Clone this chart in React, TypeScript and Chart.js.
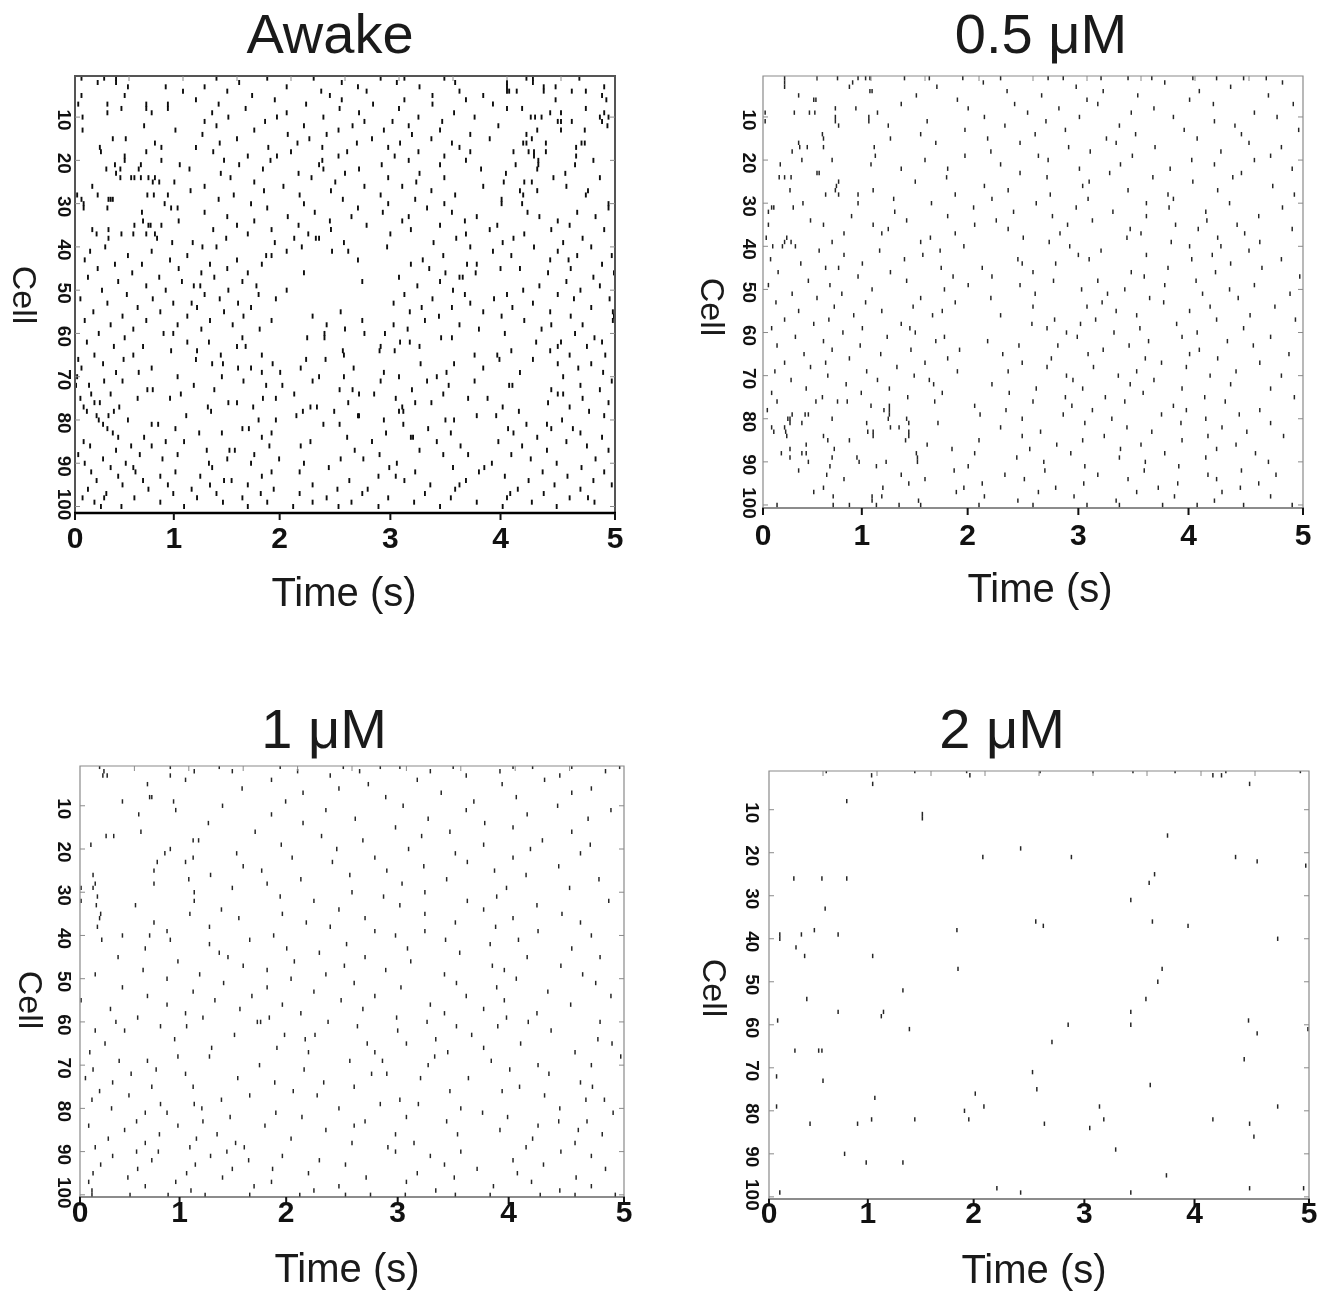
import { useEffect, useRef } from 'react';
import { Chart, registerables } from 'chart.js';

Chart.register(...registerables);

// Spike times in 1/100 s; row index = cell number - 1
const awakeSpikes: number[][] = [
  [6,27,38,131,178,221,283,305,342,418,424,467],
  [21,38,152,247,298,352,400,424],
  [49,84,120,196,262,319,400,434,445,490],
  [100,141,228,270,356,400,402,409,434,460,473,500],
  [6,46,164,236,331,378,488],
  [112,185,247,305,362,445,492],
  [3,30,66,86,133,214,276,331,387],
  [43,66,86,158,245,300,400,414,473],
  [30,71,127,196,263,351,440,450,490],
  [7,142,187,230,318,370,422,426,432,486,494],
  [120,176,268,294,340,447,450,460,488],
  [64,131,212,257,309,392,493],
  [7,93,166,244,286,338,428,450,472],
  [118,197,233,312,366,418],
  [35,47,150,217,275,330,384,423],
  [74,134,206,261,301,349,415,418,436,469,472],
  [23,80,112,179,229,290,356,464],
  [24,66,128,200,252,318,366,406,420,425,436],
  [46,160,187,244,296,342,425,464],
  [46,80,138,181,229,309,362,429,480],
  [37,61,97,152,226,284,338,408,429,463,500],
  [29,42,59,106,174,230,263,376,428],
  [38,135,207,250,319,399,454],
  [42,52,55,61,68,74,144,219,290,342,443,486],
  [72,78,92,166,241,316,397,416,423],
  [16,120,193,268,303,378,455],
  [107,175,237,330,412,428,475],
  [2,21,67,73,86,147,208,283,352,415,473],
  [6,31,33,35,133,248,315,395],
  [8,83,163,212,290,342,395,414,494],
  [8,30,89,95,178,262,326,494],
  [62,120,222,285,349,419,465],
  [141,197,256,309,372,430,482],
  [63,96,166,236,303,361,447],
  [55,68,70,80,150,207,270,338,391,458],
  [16,31,128,182,237,311,384,441,490],
  [20,43,54,66,74,160,216,292,362,416],
  [31,76,140,203,223,226,353,406,470],
  [90,109,185,249,332,396,452],
  [28,118,131,210,289,366,425,478],
  [14,71,196,238,253,387,447],
  [49,104,177,182,341,404,465,497],
  [9,88,150,262,322,440,457],
  [37,62,125,173,311,363,372,488],
  [21,96,141,328,394,412,459],
  [53,117,160,212,343,371,438,499],
  [12,78,129,300,356,359,480],
  [40,99,155,266,338,455],
  [66,110,116,168,317,430,486],
  [25,84,142,196,350,415,468],
  [48,120,170,305,361,400,447],
  [5,72,134,186,331,388,462,495],
  [30,91,108,151,295,366,424],
  [58,113,163,321,349,405,478],
  [17,79,138,246,310,378,440,498],
  [44,104,156,220,337,395,459,499],
  [9,66,125,182,266,324,416,498],
  [33,95,146,233,295,356,441,470],
  [54,117,171,250,308,374,432],
  [22,82,91,231,268,287,398,463],
  [46,155,215,231,339,349,481],
  [11,104,124,301,310,427,450,488],
  [36,63,150,158,283,319,447,474],
  [89,113,248,282,296,404,440],
  [18,54,135,173,249,370,391,458,491],
  [3,45,112,214,232,393,424],
  [26,127,137,183,320,351,447,478],
  [6,71,151,163,209,258,378,466],
  [38,59,173,190,286,344,412,489],
  [2,95,136,226,249,300,335,452],
  [27,44,156,220,283,326,370,497],
  [1,13,110,177,192,346,402,405,468],
  [67,72,129,245,257,312,441,486],
  [15,33,98,203,263,277,341,447,452],
  [5,58,88,174,186,297,364,382,470],
  [18,23,142,150,253,315,330,438,494],
  [8,41,123,165,218,224,303,396,458],
  [11,36,126,211,240,300,304,411,476],
  [20,31,103,205,262,263,372,390,490],
  [22,49,170,186,286,343,351,451],
  [26,71,77,230,245,304,418,437],
  [30,93,155,161,327,401,441,461],
  [35,115,136,182,288,348,406,468,500],
  [40,64,173,252,311,313,428,488],
  [8,84,101,218,275,335,392,455],
  [14,52,71,180,209,357,414,474],
  [38,122,143,148,259,319,437,494],
  [3,60,95,166,282,341,364,404],
  [26,81,141,189,246,267,422,482],
  [9,47,124,163,212,298,386,446],
  [33,54,127,235,291,350,379,469],
  [15,56,93,182,208,315,374,433,490],
  [40,79,116,173,281,297,398,456],
  [20,63,138,145,254,305,362,420,480],
  [44,86,125,160,220,329,356,444,497],
  [12,68,108,184,243,271,352,410,468],
  [29,91,131,172,208,266,324,403,434],
  [7,27,55,113,155,233,290,348,400,458,475],
  [18,79,137,178,220,256,314,372,423,481],
  [24,43,101,160,202,244,281,338,396,446],
];

const halfMicroMolarSpikes: number[][] = [
  [20,50,69,88,95,99,131,154,185,220,264,278,313,338,360,398,420,445,466],
  [20,83,204,372,481],
  [20,80,161,290,433],
  [99,101,226,315,404],
  [33,142,258,347,468],
  [47,49,180,300,395],
  [128,233,310,417,491],
  [67,86,190,274,362],
  [2,29,43,48,106,245,341,455],
  [67,98,205,293,380,476],
  [2,67,98,152,262,418],
  [70,116,224,330,437],
  [187,280,390,496],
  [55,146,252,345,443],
  [56,118,208,318,402],
  [33,160,238,327,450],
  [34,41,56,103,283,363,480],
  [27,211,303,424],
  [104,187,255,342,470],
  [36,64,150,264,397,455],
  [16,100,220,331,418],
  [128,171,293,377,490],
  [50,52,238,321,443],
  [15,20,26,170,263,361,435],
  [70,141,302,398],
  [68,205,296,472],
  [25,67,102,227,338,421],
  [58,70,88,178,266,375,492],
  [121,212,301,380],
  [37,88,156,253,355,432],
  [8,10,28,195,290,376,481],
  [5,122,232,324,410],
  [82,171,268,355,459],
  [44,133,216,305,411],
  [5,56,102,196,282,382,439],
  [116,227,340,403,490],
  [75,110,178,275,350,446],
  [3,22,155,241,337,421],
  [20,26,64,146,265,378,460],
  [9,18,30,186,284,395,424],
  [52,108,164,313,450],
  [75,148,292,355,416],
  [7,131,236,302,397,480],
  [35,92,240,271,433],
  [58,70,165,203,375,462],
  [14,118,250,341,419],
  [88,176,212,353,497],
  [42,133,269,310,401],
  [5,62,190,238,372,455],
  [101,168,295,335,432],
  [27,73,252,319,407,488],
  [50,146,211,358,440],
  [12,95,178,314,371],
  [66,139,250,300,414,474],
  [33,110,166,327,395],
  [84,157,220,346,451],
  [20,61,270,308,420,493],
  [47,128,249,294,383],
  [8,92,136,263,349,445],
  [74,141,281,325,402],
  [30,115,168,291,388,470],
  [56,160,208,357,430],
  [13,90,237,273,339,454],
  [64,137,182,315,404],
  [38,109,222,301,395,487],
  [80,171,267,354,421],
  [20,58,150,240,369,460],
  [44,124,263,306,392],
  [11,96,180,227,346,438],
  [60,140,281,329,414,480],
  [26,106,154,287,362],
  [77,158,212,340,433],
  [40,117,253,296,388,470],
  [8,91,166,228,352],
  [55,134,280,317,409,492],
  [13,49,69,78,159,250,335,428],
  [100,117,196,286,380],
  [4,112,117,225,305,392,460],
  [27,39,42,117,201,278,369,441],
  [23,25,64,116,133,240,323,410],
  [25,36,96,135,162,298,387,470],
  [8,20,118,126,220,337,425],
  [10,21,97,102,135,257,360,448],
  [22,56,102,135,240,316,412,482],
  [60,80,132,200,296,388],
  [40,152,272,350,438],
  [25,66,175,247,331,420],
  [17,36,40,142,196,285,372,456],
  [25,64,87,143,235,330,410],
  [42,89,114,143,260,354,468],
  [62,105,190,298,385],
  [33,177,261,353,443],
  [59,128,224,310,412,475],
  [75,150,242,338,420],
  [135,203,297,384,459],
  [56,111,186,271,366,442],
  [47,179,255,346,425],
  [65,101,110,205,288,381,470],
  [101,144,236,327,418],
  [13,65,80,105,126,146,200,250,300,330,370,402,445,490],
];

const oneMicroMolarSpikes: number[][] = [
  [18,83,128,184,242,276,294,343,398,416,452,496],
  [22,105,140,200,257,322,386,483],
  [21,25,83,230,355,441],
  [97,176,310,427],
  [62,265,388],
  [149,238,470],
  [205,332,452],
  [64,66,281,401],
  [39,86,189,362],
  [131,297,439],
  [88,226,355,488],
  [54,176,411],
  [253,320,467],
  [118,205,372],
  [290,398],
  [56,161,340,452],
  [24,31,222,314],
  [104,109,260,425],
  [10,185,371,469],
  [83,236,302,414],
  [78,144,345,460],
  [104,195,271,398],
  [71,97,232,356],
  [150,316,440],
  [68,167,282,381],
  [12,120,248,410],
  [100,203,337,477],
  [14,68,172,296],
  [1,12,140,392,450],
  [105,250,317],
  [16,184,279,383],
  [1,105,215,356,486],
  [15,51,294,420],
  [130,238,371],
  [19,101,186,317,443],
  [18,146,262,398],
  [68,208,345,460],
  [16,119,230,382],
  [80,271,317,421],
  [39,64,178,290,470],
  [20,83,156,336,403],
  [119,245,377],
  [60,190,301,452],
  [128,220,349],
  [35,136,262,411,478],
  [90,197,304],
  [150,243,379,442],
  [58,172,281,390],
  [14,110,226,335,462],
  [80,194,401],
  [132,252,346,474],
  [39,172,295,383],
  [104,215,430],
  [62,158,271,355,488],
  [1,124,240,390],
  [80,186,322,451],
  [28,147,260,371],
  [97,203,335,420],
  [53,113,174,291,392],
  [33,163,166,228,319,412,478],
  [74,98,255,346,384],
  [14,41,292,433],
  [142,188,216,360],
  [87,207,327,476],
  [23,264,300,405,489],
  [121,181,371],
  [9,210,271,338,455],
  [90,119,326,497],
  [36,62,248,278,378],
  [165,320,421,470],
  [12,70,206,395],
  [47,97,268,282,431],
  [5,145,313,357],
  [30,179,224,460],
  [66,104,252,404,471],
  [18,196,340,388],
  [45,156,218,427],
  [11,130,294,465,482],
  [74,105,276,311],
  [29,112,238,350,441],
  [60,80,180,370,490],
  [138,204,300,393],
  [52,113,262,337,440,466],
  [8,90,170,252,421],
  [41,226,386,458],
  [73,126,290,347,480],
  [26,107,194,416],
  [60,143,250,307,455],
  [14,101,151,283,410],
  [52,72,135,290,350,442],
  [30,120,186,322,470],
  [66,155,220,398],
  [19,106,244,335,426],
  [53,140,177,365,483],
  [12,98,210,310,402],
  [44,131,263,344,456],
  [8,88,176,300,415],
  [60,160,238,380,470],
  [11,102,215,327,441],
  [11,46,81,115,156,202,244,267,299,345,377,423,455,492],
];

const twoMicroMolarSpikes: number[][] = [
  [53,135,183,251,300,337,376,423,492],
  [95,186,411,419],
  [],
  [96,445],
  [], [], [],
  [72],
  [], [],
  [142],
  [142],
  [], [], [],
  [369],
  [], [],
  [233],
  [],
  [198,280,432],
  [452],
  [497],
  [],
  [357],
  [23,49,72],
  [352],
  [], [], [],
  [335],
  [],
  [52],
  [], [],
  [247,355],
  [254,388],
  [42,174],
  [10,30,64],
  [10,471],
  [],
  [25],
  [],
  [33,96],
  [], [],
  [175,364],
  [], [],
  [360],
  [],
  [124],
  [],
  [35,349],
  [], [],
  [64,106,335],
  [104],
  [8,444],
  [277,335],
  [130,499],
  [452],
  [],
  [262],
  [],
  [24,46,49],
  [],
  [440],
  [], [],
  [244],
  [7],
  [50],
  [353],
  [248],
  [191],
  [98],
  [],
  [7,199,306,471],
  [181],
  [],
  [95,135,185,310,411],
  [38,82,255,445],
  [297],
  [],
  [449],
  [], [],
  [321],
  [70],
  [],
  [90,124],
  [], [],
  [368],
  [], [],
  [211,445,495],
  [10,233,335],
  [],
];

const panelTitles = ['Awake', '0.5 μM', '1 μM', '2 μM'];
const xTickLabels = ['0', '1', '2', '3', '4', '5'];
const xTickValues = [0, 0.915, 1.895, 2.92, 3.94, 5];
const topTickValues = [0.5, 1, 1.5, 2, 2.5, 3, 3.5, 4, 4.5];
const yTickValues = [10, 20, 30, 40, 50, 60, 70, 80, 90, 100];
const xAxisTitle = 'Time (s)';
const yAxisTitle = 'Cell';

type Panel = {
  spikes: number[][];
  title: string;
  canvas: { x: number; y: number; w: number; h: number };
  area: { l: number; t: number; r: number; b: number };
  yMin: number;
  yMax: number;
  titleX: number;
  titleY: number;
  tickY: number;
  xTitleX: number;
  xTitleY: number;
  cellX: number;
  cellY: number;
  yLabelX: number;
  heavy: boolean;
};

const panels: Panel[] = [
  {
    spikes: awakeSpikes, title: panelTitles[0],
    canvas: { x: 0, y: 0, w: 666, h: 646 },
    area: { l: 75, t: 76, r: 615, b: 513 },
    yMin: 0.5, yMax: 101.5,
    titleX: 330, titleY: 53, tickY: 548, xTitleX: 344, xTitleY: 606,
    cellX: 22, cellY: 295, yLabelX: 63.5, heavy: true,
  },
  {
    spikes: halfMicroMolarSpikes, title: panelTitles[1],
    canvas: { x: 666, y: 0, w: 667, h: 646 },
    area: { l: 763, t: 76, r: 1303, b: 508 },
    yMin: 0.5, yMax: 100.7,
    titleX: 1041, titleY: 53, tickY: 545, xTitleX: 1040, xTitleY: 602,
    cellX: 710, cellY: 307, yLabelX: 748.5, heavy: false,
  },
  {
    spikes: oneMicroMolarSpikes, title: panelTitles[2],
    canvas: { x: 0, y: 646, w: 666, h: 646 },
    area: { l: 80, t: 766, r: 624, b: 1197 },
    yMin: 0.8, yMax: 100.5,
    titleX: 324, titleY: 748, tickY: 1222, xTitleX: 347, xTitleY: 1282,
    cellX: 28, cellY: 1000, yLabelX: 63.5, heavy: false,
  },
  {
    spikes: twoMicroMolarSpikes, title: panelTitles[3],
    canvas: { x: 666, y: 646, w: 667, h: 646 },
    area: { l: 769, t: 771, r: 1309, b: 1199 },
    yMin: 1.0, yMax: 100.5,
    titleX: 1002, titleY: 748, tickY: 1223, xTitleX: 1034, xTitleY: 1283,
    cellX: 712, cellY: 988, yLabelX: 751.5, heavy: false,
  },
];

const FONT = '"Liberation Sans", Arial, sans-serif';

function RasterPanel({ p }: { p: Panel }) {
  const ref = useRef<HTMLCanvasElement | null>(null);

  useEffect(() => {
    const canvas = ref.current;
    if (!canvas) return;
    const ox = p.canvas.x;
    const oy = p.canvas.y;
    const points = p.spikes.flatMap((row, i) => row.map((t) => ({ x: t / 100, y: i + 1 })));
    const spikeColor = p.heavy ? '#0d0d0d' : '#262626';

    const decor = {
      id: 'rasterDecor',
      afterDraw(chart: any) {
        const ctx: CanvasRenderingContext2D = chart.ctx;
        const { left, right, top, bottom } = chart.chartArea;
        const xs = chart.scales.x;
        const ys = chart.scales.y;
        ctx.save();
        ctx.lineCap = 'butt';
        // frame
        ctx.strokeStyle = p.heavy ? '#555555' : '#8a8a8a';
        ctx.lineWidth = p.heavy ? 2 : 1.2;
        ctx.beginPath();
        ctx.moveTo(left, bottom);
        ctx.lineTo(left, top);
        ctx.lineTo(right, top);
        ctx.lineTo(right, bottom);
        ctx.stroke();
        ctx.strokeStyle = p.heavy ? '#000000' : '#666666';
        ctx.lineWidth = p.heavy ? 2.5 : 1.5;
        ctx.beginPath();
        ctx.moveTo(left - 1, bottom);
        ctx.lineTo(right + 1, bottom);
        ctx.stroke();
        // inner ticks
        ctx.strokeStyle = '#8a8a8a';
        ctx.lineWidth = 1;
        ctx.beginPath();
        yTickValues.forEach((v) => {
          const y = ys.getPixelForValue(v);
          ctx.moveTo(left, y);
          ctx.lineTo(left + 5, y);
          ctx.moveTo(right, y);
          ctx.lineTo(right - 5, y);
        });
        topTickValues.forEach((v) => {
          const x = xs.getPixelForValue(v);
          ctx.moveTo(x, top);
          ctx.lineTo(x, top + 5);
        });
        ctx.stroke();
        // bottom ticks
        ctx.strokeStyle = '#111111';
        ctx.lineWidth = 2;
        ctx.beginPath();
        xTickValues.forEach((v) => {
          const x = xs.getPixelForValue(v);
          ctx.moveTo(x, bottom);
          ctx.lineTo(x, bottom + 7);
        });
        ctx.stroke();
        // x tick labels
        ctx.fillStyle = '#111111';
        ctx.font = `bold 30px ${FONT}`;
        ctx.textAlign = 'center';
        ctx.textBaseline = 'alphabetic';
        xTickValues.forEach((v, i) => {
          ctx.fillText(xTickLabels[i], xs.getPixelForValue(v), p.tickY - oy);
        });
        // y tick labels (rotated clockwise)
        ctx.font = `bold 19px ${FONT}`;
        ctx.textBaseline = 'middle';
        yTickValues.forEach((v) => {
          const y = ys.getPixelForValue(v) + (v >= 100 ? -2 : 3);
          ctx.save();
          ctx.translate(p.yLabelX - ox, y);
          ctx.rotate(Math.PI / 2);
          ctx.textAlign = 'center';
          ctx.fillText(String(v), 0, 0);
          ctx.restore();
        });
        // panel title
        ctx.fillStyle = '#1a1a1a';
        ctx.font = `56px ${FONT}`;
        ctx.textAlign = 'center';
        ctx.textBaseline = 'alphabetic';
        ctx.fillText(p.title, p.titleX - ox, p.titleY - oy);
        // x axis title
        ctx.font = `40px ${FONT}`;
        ctx.fillText(xAxisTitle, p.xTitleX - ox, p.xTitleY - oy);
        // y axis title (rotated clockwise)
        ctx.save();
        ctx.translate(p.cellX - ox, p.cellY - oy);
        ctx.rotate(Math.PI / 2);
        ctx.font = `34px ${FONT}`;
        ctx.textAlign = 'center';
        ctx.textBaseline = 'middle';
        ctx.fillText(yAxisTitle, 0, 0);
        ctx.restore();
        ctx.restore();
      },
    };

    const chart = new Chart(canvas, {
      type: 'scatter',
      data: {
        datasets: [
          {
            data: points,
            pointStyle: 'line',
            pointRotation: 90,
            rotation: 90,
            pointRadius: p.heavy ? 2.5 : 2.2,
            pointBorderWidth: p.heavy ? 1.9 : 1.5,
            pointBorderColor: spikeColor,
            pointBackgroundColor: spikeColor,
            borderColor: spikeColor,
            showLine: false,
          } as any,
        ],
      },
      options: {
        animation: false,
        responsive: false,
        devicePixelRatio: 1,
        events: [],
        layout: {
          padding: {
            left: p.area.l - ox,
            top: p.area.t - oy,
            right: ox + p.canvas.w - p.area.r,
            bottom: oy + p.canvas.h - p.area.b,
          },
        },
        scales: {
          x: { type: 'linear', min: 0, max: 5, display: false },
          y: { type: 'linear', min: p.yMin, max: p.yMax, reverse: true, display: false },
        },
        plugins: {
          legend: { display: false },
          tooltip: { enabled: false },
          title: { display: false },
        },
      },
      plugins: [decor],
    });
    return () => chart.destroy();
  }, [p]);

  return (
    <canvas
      ref={ref}
      width={p.canvas.w}
      height={p.canvas.h}
      style={{
        position: 'absolute',
        left: p.canvas.x,
        top: p.canvas.y,
        width: p.canvas.w,
        height: p.canvas.h,
      }}
    />
  );
}

export default function App() {
  return (
    <div
      style={{
        position: 'absolute',
        left: 0,
        top: 0,
        width: 1333,
        height: 1292,
        background: '#ffffff',
      }}
    >
      {panels.map((p, i) => (
        <RasterPanel key={i} p={p} />
      ))}
    </div>
  );
}
